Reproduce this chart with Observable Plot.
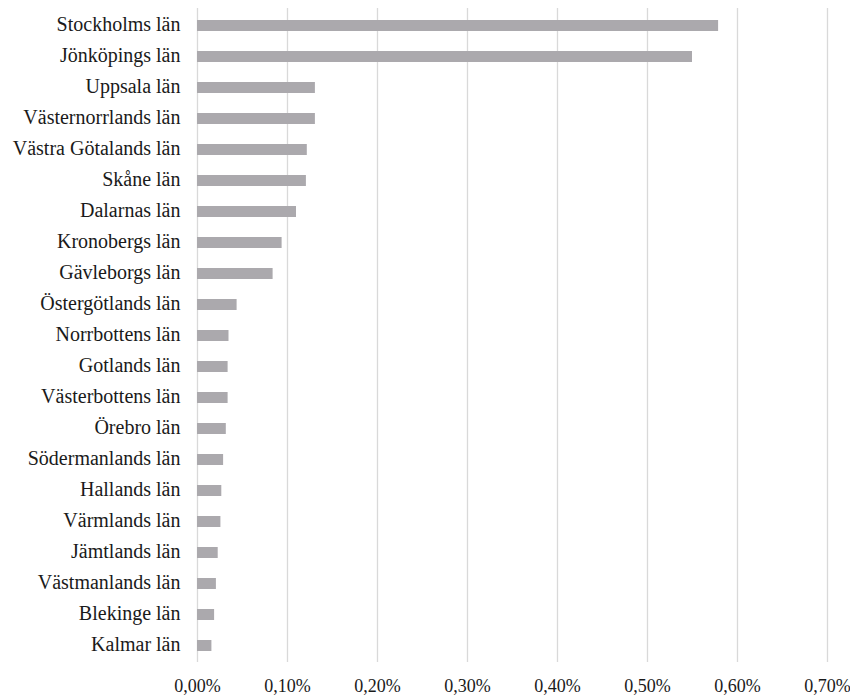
<!DOCTYPE html>
<html>
<head>
<meta charset="utf-8">
<script src="https://cdn.jsdelivr.net/npm/d3@7"></script>
<script src="https://cdn.jsdelivr.net/npm/@observablehq/plot@0.6"></script>
<style>
  html, body { margin: 0; padding: 0; background: #fff; }
  #chart svg { display: block; font-family: "Liberation Serif", "DejaVu Serif", serif !important; }
  #chart svg text { font-family: "Liberation Serif", "DejaVu Serif", serif !important; fill: #1a1a1a; }
</style>
</head>
<body>
<div id="chart"></div>
<script>
const categories = [
  "Stockholms län", "Jönköpings län", "Uppsala län", "Västernorrlands län",
  "Västra Götalands län", "Skåne län", "Dalarnas län", "Kronobergs län",
  "Gävleborgs län", "Östergötlands län", "Norrbottens län", "Gotlands län",
  "Västerbottens län", "Örebro län", "Södermanlands län", "Hallands län",
  "Värmlands län", "Jämtlands län", "Västmanlands län", "Blekinge län", "Kalmar län"
];
const values = [
  0.579, 0.550, 0.131, 0.131,
  0.122, 0.121, 0.110, 0.094,
  0.084, 0.044, 0.035, 0.034,
  0.034, 0.032, 0.029, 0.027,
  0.026, 0.023, 0.021, 0.019, 0.016
];
const xTicks = [0, 0.1, 0.2, 0.3, 0.4, 0.5, 0.6, 0.7];
const fmt = d => d.toFixed(2).replace(".", ",") + "%";

const data = categories.map((c, i) => ({category: c, value: values[i]}));

const chart = Plot.plot({
  width: 850,
  height: 695,
  marginTop: 8,
  marginBottom: 33,
  marginLeft: 197,
  marginRight: 23,
  x: {domain: [0, 0.7], label: null},
  y: {domain: categories, paddingInner: 0.655, paddingOuter: 0.3275, label: null},
  marks: [
    Plot.ruleX(xTicks, {stroke: "#d9d9d9", strokeWidth: 1.3}),
    Plot.barX(data, {x: "value", y: "category", fill: "#aba9ad"}),
    Plot.axisY({tickSize: 0, tickPadding: 17, fontSize: 20, dy: -1, label: null}),
    Plot.axisX({ticks: xTicks, tickFormat: fmt, tickSize: 0, tickPadding: 17, fontSize: 18, label: null})
  ]
});
document.getElementById("chart").appendChild(chart);
</script>
</body>
</html>
